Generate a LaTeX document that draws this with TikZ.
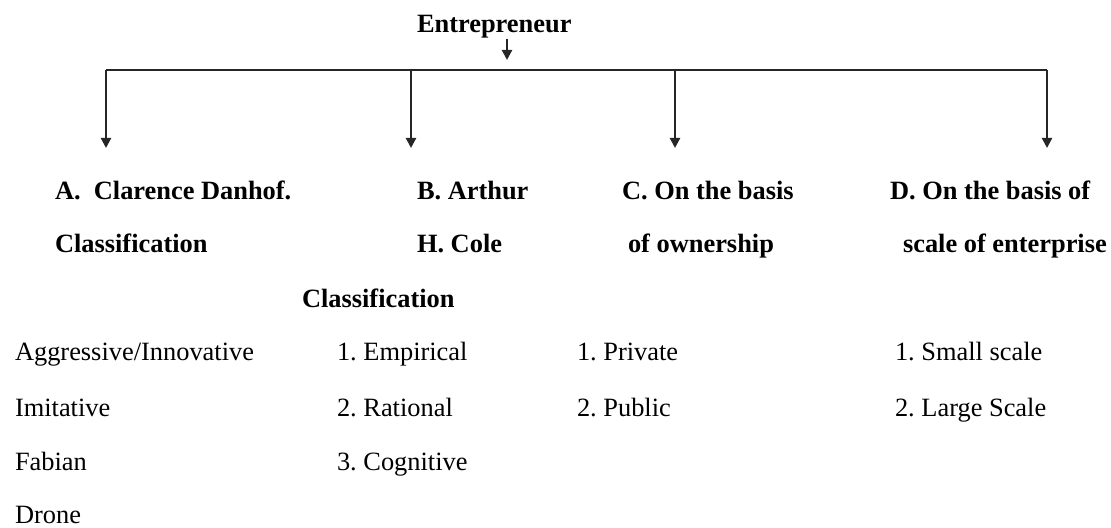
\documentclass[tikz,border=0pt]{standalone}
\usepackage{fontspec}
\setmainfont{Liberation Serif}
\usetikzlibrary{arrows.meta}
\frenchspacing
\begin{document}
\begin{tikzpicture}[x=0.5pt,y=-0.5pt,
  every node/.style={inner sep=0pt,outer sep=0pt,anchor=base west,font=\fontsize{13.2pt}{16pt}\selectfont},
  head/.style={font=\fontsize{13.2pt}{16pt}\selectfont\bfseries},
  item/.style={},
  conn/.style={draw=black!85,line width=1.1pt},
  arr/.style={conn,-{Triangle[length=5pt,width=5pt]}}]
\useasboundingbox (0,0) rectangle (1111,528);
% top
\node[head] (ent) at (417,33) {Entrepreneur};
\coordinate (bL) at (106,70);
\coordinate (bB) at (411,70);
\coordinate (bC) at (675,70);
\coordinate (bR) at (1047,70);
\coordinate (bE) at (507,70);
\coordinate (tE) at (507,60);
\coordinate (tA) at (106,148);
\coordinate (tB) at (411,148);
\coordinate (tC) at (675,148);
\coordinate (tD) at (1047,148);
\draw[arr] (ent.south -| bE) -- (tE);
\draw[conn] (bL) -- (bR);
\draw[arr] (bL) -- (tA);
\draw[arr] (bB) -- (tB);
\draw[arr] (bC) -- (tC);
\draw[arr] (bR) -- (tD);
% headings
\node[head] (a1) at (55,200) {A.\ \ Clarence Danhof.};
\node[head] (a2) at (55,253) {Classification};
\node[head] (b1) at (417,200) {B. Arthur};
\node[head] (b2) at (417,253) {H. Cole};
\node[head] (b3) at (302,308) {Classification};
\node[head] (c1) at (622,200) {C. On the basis};
\node[head] (c2) at (628,253) {of ownership};
\node[head] (d1) at (890,200) {D. On the basis of};
\node[head] (d2) at (903,253) {scale of enterprise};
% items
\node[item] (a3) at (15,361) {Aggressive/Innovative};
\node[item] (a4) at (15,416) {Imitative};
\node[item] (a5) at (15,470) {Fabian};
\node[item] (a6) at (15,523) {Drone};
\node[item] (b4) at (337,361) {1. Empirical};
\node[item] (b5) at (337,416) {2. Rational};
\node[item] (b6) at (337,470) {3. Cognitive};
\node[item] (c3) at (577,361) {1. Private};
\node[item] (c4) at (577,416) {2. Public};
\node[item] (d3) at (895,361) {1. Small scale};
\node[item] (d4) at (895,416) {2. Large Scale};
\end{tikzpicture}
\end{document}
